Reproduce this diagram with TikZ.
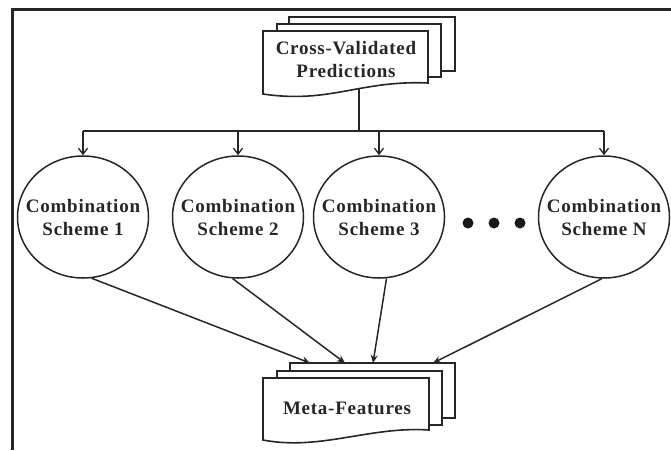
\documentclass[tikz,border=0pt]{standalone}
\usepackage{fontspec}
\setmainfont[LetterSpace=4]{Liberation Serif}
\usetikzlibrary{arrows.meta,shapes.geometric}
\begin{document}
\begin{tikzpicture}[x=1pt,y=-1pt,
  ink/.style={draw=black!85, line width=1.5pt},
  docline/.style={draw=black!85, line width=1.6pt, fill=white},
  label/.style={font=\fontsize{19}{23}\selectfont\bfseries, text=black!85, align=center},
  scheme/.style={ellipse, ink, minimum width=131pt, minimum height=122pt, inner sep=0pt},
  dotstyle/.style={circle, fill=black!90, minimum size=11pt, inner sep=0pt},
  toparr/.style={ink, -{Straight Barb[length=6pt,width=9pt,line width=1.3pt]}},
  botarr/.style={ink, -{Stealth[length=8pt,width=7pt]}}]
\useasboundingbox (0,0) rectangle (671,450);
% frame
\draw[draw=black!85, line width=3pt] (12.5,450) -- (12.5,9.5) -- (671,9.5);

% top document stack
\draw[docline] (289,17) rectangle (455,71);
\draw[docline] (277,24) rectangle (441,77);
\draw[docline] (263,31) -- (428,31) -- (428,83) .. controls (360,80) and (330,104) .. (263,94) -- cycle;
\node[label] (cvp) at (346,59.5) {Cross-Validated\\Predictions};
\coordinate (cvpb) at (359,88.5);
\coordinate (split) at (359,131);

% schemes
\node[scheme] (c1) at (83,217) {};
\node[scheme] (c2) at (238,217) {};
\node[scheme] (c3) at (379,217) {};
\node[scheme] (c4) at (604,217) {};
\node[label] (t1) at (c1) {Combination\\Scheme 1};
\node[label] (t2) at (c2) {Combination\\Scheme 2};
\node[label] (t3) at (c3) {Combination\\Scheme 3};
\node[label] (t4) at (c4) {Combination\\Scheme N};

\node[dotstyle] (d1) at (468,223) {};
\node[dotstyle] (d2) at (494,223) {};
\node[dotstyle] (d3) at (520,223) {};

% distribution
\draw[ink] (cvpb) -- (split);
\draw[ink] (c1 |- split) -- (c4 |- split);
\draw[toparr] (c1 |- split) -- (c1.north);
\draw[toparr] (c2 |- split) -- (c2.north);
\draw[toparr] (c3 |- split) -- (c3.north);
\draw[toparr] (c4 |- split) -- (c4.north);

% bottom document stack
\draw[docline] (290,363) rectangle (455,418);
\draw[docline] (277,371) rectangle (442,425);
\draw[docline] (263,378) -- (429,378) -- (429,430) .. controls (370,426) and (320,451) .. (263,440) -- cycle;
\node[label] (mf) at (347,408) {Meta-Features};
\coordinate (m1) at (310,363);
\coordinate (m2) at (345,363);
\coordinate (m3) at (373,363);
\coordinate (m4) at (433,363);

\draw[botarr] (c1.-82) -- (m1);
\draw[botarr] (c2.-95) -- (m2);
\draw[botarr] (c3.-83) -- (m3);
\draw[botarr] (c4.-92) -- (m4);
\end{tikzpicture}
\end{document}
